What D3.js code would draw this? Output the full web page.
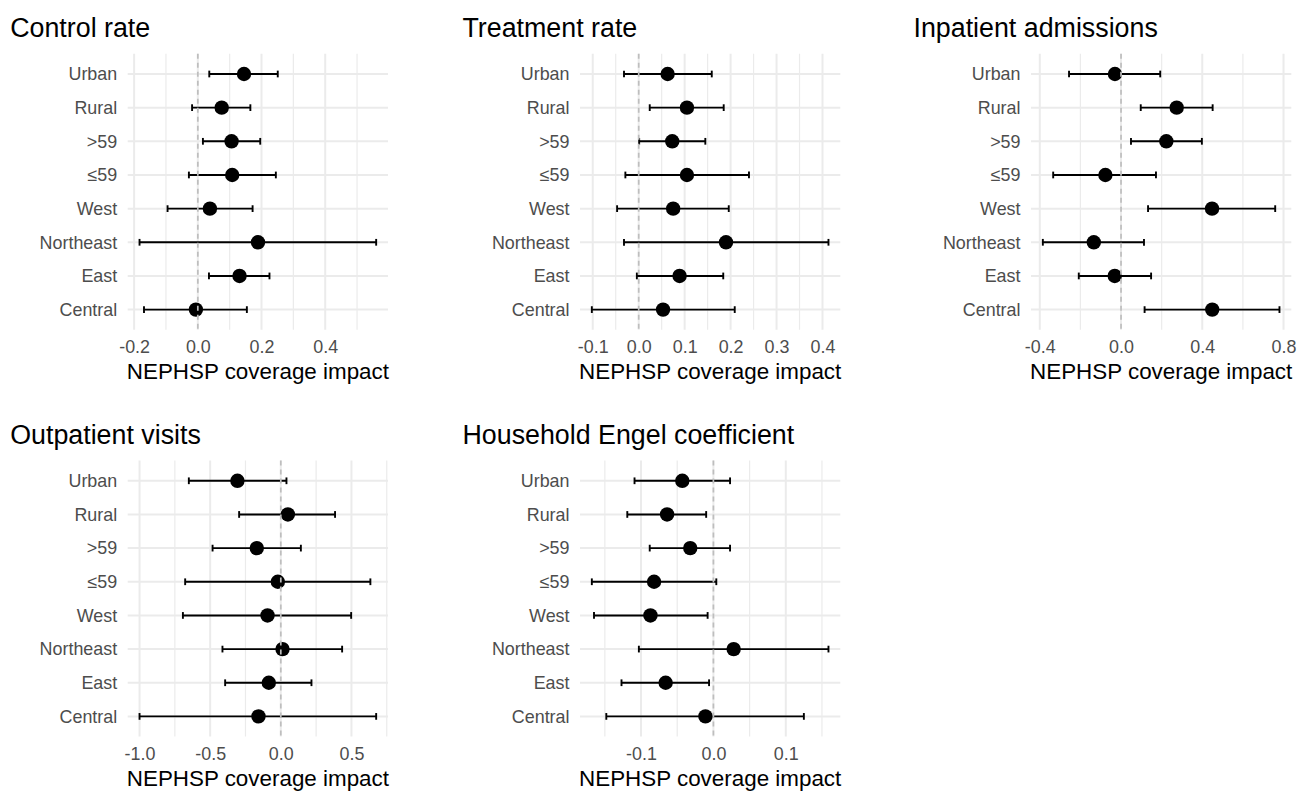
<!DOCTYPE html>
<html><head><meta charset="utf-8">
<script src="https://cdn.jsdelivr.net/npm/d3@7/dist/d3.min.js"></script>
<style>body{margin:0;background:#fff}svg{display:block}</style>
</head><body>
<svg id="chart" width="1299" height="791"></svg>
<script>
// ---- data ----
const categories = ["Urban", "Rural", ">59", "≤59", "West", "Northeast", "East", "Central"];
const panelTitles = ["Control rate", "Treatment rate", "Inpatient admissions", "Outpatient visits", "Household Engel coefficient"];
const axisTitle = "NEPHSP coverage impact";

const controlEst  = [0.145, 0.075, 0.106, 0.108, 0.038, 0.189, 0.131, -0.006];
const controlLow  = [0.036, -0.018, 0.016, -0.028, -0.095, -0.183, 0.035, -0.169];
const controlHigh = [0.251, 0.165, 0.196, 0.245, 0.172, 0.560, 0.225, 0.154];

const treatEst  = [0.063, 0.105, 0.073, 0.105, 0.075, 0.190, 0.089, 0.053];
const treatLow  = [-0.032, 0.024, 0.001, -0.029, -0.047, -0.032, -0.004, -0.102];
const treatHigh = [0.159, 0.185, 0.145, 0.240, 0.196, 0.413, 0.184, 0.209];

const inpatEst  = [-0.030, 0.274, 0.223, -0.077, 0.448, -0.134, -0.031, 0.449];
const inpatLow  = [-0.256, 0.097, 0.049, -0.334, 0.133, -0.385, -0.208, 0.116];
const inpatHigh = [0.193, 0.451, 0.398, 0.172, 0.759, 0.113, 0.148, 0.780];

const outpatEst  = [-0.307, 0.050, -0.170, -0.021, -0.094, 0.012, -0.085, -0.158];
const outpatLow  = [-0.651, -0.295, -0.483, -0.677, -0.693, -0.413, -0.394, -1.000];
const outpatHigh = [0.040, 0.384, 0.142, 0.634, 0.498, 0.434, 0.217, 0.675];

const engelEst  = [-0.043, -0.064, -0.032, -0.082, -0.087, 0.028, -0.066, -0.011];
const engelLow  = [-0.109, -0.119, -0.088, -0.168, -0.165, -0.103, -0.127, -0.148];
const engelHigh = [0.023, -0.010, 0.023, 0.004, -0.008, 0.159, -0.006, 0.125];

const controlTicks = [-0.2, 0, 0.2, 0.4];
const controlTickLabels = ["-0.2", "0.0", "0.2", "0.4"];
const treatTicks = [-0.1, 0, 0.1, 0.2, 0.3, 0.4];
const treatTickLabels = ["-0.1", "0.0", "0.1", "0.2", "0.3", "0.4"];
const inpatTicks = [-0.4, 0, 0.4, 0.8];
const inpatTickLabels = ["-0.4", "0.0", "0.4", "0.8"];
const outpatTicks = [-1.0, -0.5, 0, 0.5];
const outpatTickLabels = ["-1.0", "-0.5", "0.0", "0.5"];
const engelTicks = [-0.1, 0, 0.1];
const engelTickLabels = ["-0.1", "0.0", "0.1"];

// ---- layout ----
const panelLeft = [127.7, 580, 1031];
const panelTop = [53.8, 460.6];
const panelW = 260.3, panelH = 276;
const font = "'Liberation Sans', Arial, Helvetica, sans-serif";

const panels = [
  {title: panelTitles[0], est: controlEst, low: controlLow, high: controlHigh, ticks: controlTicks, labels: controlTickLabels, col: 0, row: 0},
  {title: panelTitles[1], est: treatEst, low: treatLow, high: treatHigh, ticks: treatTicks, labels: treatTickLabels, col: 1, row: 0},
  {title: panelTitles[2], est: inpatEst, low: inpatLow, high: inpatHigh, ticks: inpatTicks, labels: inpatTickLabels, col: 2, row: 0},
  {title: panelTitles[3], est: outpatEst, low: outpatLow, high: outpatHigh, ticks: outpatTicks, labels: outpatTickLabels, col: 0, row: 1},
  {title: panelTitles[4], est: engelEst, low: engelLow, high: engelHigh, ticks: engelTicks, labels: engelTickLabels, col: 1, row: 1}
];

const svg = d3.select("#chart");

panels.forEach(p => {
  const x0 = panelLeft[p.col], y0 = panelTop[p.row];
  const g = svg.append("g").attr("transform", `translate(${x0},${y0})`);
  const lo = d3.min(p.low), hi = d3.max(p.high);
  const pad = (hi - lo) * 0.05;
  const x = d3.scaleLinear().domain([lo - pad, hi + pad]).range([0, panelW]);
  const y = d3.scalePoint().domain(categories).range([0, panelH]).padding(0.6);

  // minor grid (midpoints between majors)
  const step = p.ticks[1] - p.ticks[0];
  const minors = [];
  for (let v = p.ticks[0] - step / 2; v <= p.ticks[p.ticks.length - 1] + step / 2 + 1e-9; v += step) {
    if (v >= x.domain()[0] && v <= x.domain()[1]) minors.push(v);
  }
  g.append("g").selectAll("line").data(minors).join("line")
    .attr("x1", d => x(d)).attr("x2", d => x(d)).attr("y1", 0).attr("y2", panelH)
    .attr("stroke", "#EBEBEB").attr("stroke-width", 1.2);
  g.append("g").selectAll("line").data(p.ticks).join("line")
    .attr("x1", d => x(d)).attr("x2", d => x(d)).attr("y1", 0).attr("y2", panelH)
    .attr("stroke", "#EBEBEB").attr("stroke-width", 2);
  g.append("g").selectAll("line").data(categories).join("line")
    .attr("x1", 0).attr("x2", panelW).attr("y1", d => y(d)).attr("y2", d => y(d))
    .attr("stroke", "#EBEBEB").attr("stroke-width", 2);

  // x axis labels via d3 axis
  const xAxis = d3.axisBottom(x).tickValues(p.ticks).tickSize(0).tickPadding(0)
    .tickFormat((d, i) => p.labels[i]);
  const xa = g.append("g").attr("transform", `translate(0,${panelH})`).call(xAxis);
  xa.select(".domain").remove();
  xa.selectAll("text").attr("y", 23.5).attr("dy", 0)
    .attr("font-family", font).attr("font-size", 17.9).attr("fill", "#4D4D4D");

  // y axis labels
  const yAxis = d3.axisLeft(y).tickSize(0).tickPadding(10.5);
  const ya = g.append("g").call(yAxis);
  ya.select(".domain").remove();
  ya.selectAll("text").attr("font-family", font).attr("font-size", 17.9).attr("fill", "#4D4D4D");

  // error bars
  const cap = y.step() * 0.1;
  const eb = g.append("g").attr("stroke", "#000").attr("stroke-width", 1.9).attr("fill", "none");
  categories.forEach((c, i) => {
    const yy = y(c);
    eb.append("line").attr("x1", x(p.low[i])).attr("x2", x(p.high[i])).attr("y1", yy).attr("y2", yy);
    eb.append("line").attr("x1", x(p.low[i])).attr("x2", x(p.low[i])).attr("y1", yy - cap).attr("y2", yy + cap);
    eb.append("line").attr("x1", x(p.high[i])).attr("x2", x(p.high[i])).attr("y1", yy - cap).attr("y2", yy + cap);
  });

  // points
  g.append("g").selectAll("circle").data(categories).join("circle")
    .attr("cx", (c, i) => x(p.est[i])).attr("cy", c => y(c)).attr("r", 7.2).attr("fill", "#000");

  // dashed zero line
  g.append("line").attr("x1", x(0)).attr("x2", x(0)).attr("y1", 0).attr("y2", panelH)
    .attr("stroke", "#BEBEBE").attr("stroke-width", 1.7).attr("stroke-dasharray", "5,4");

  // titles
  g.append("text").attr("x", -117.5).attr("y", -17).text(p.title)
    .attr("font-family", font).attr("font-size", 26.8).attr("fill", "#000");
  g.append("text").attr("x", panelW / 2).attr("y", panelH + 49).attr("text-anchor", "middle")
    .text(axisTitle).attr("font-family", font).attr("font-size", 22.4).attr("fill", "#000");
});
</script>
</body></html>
